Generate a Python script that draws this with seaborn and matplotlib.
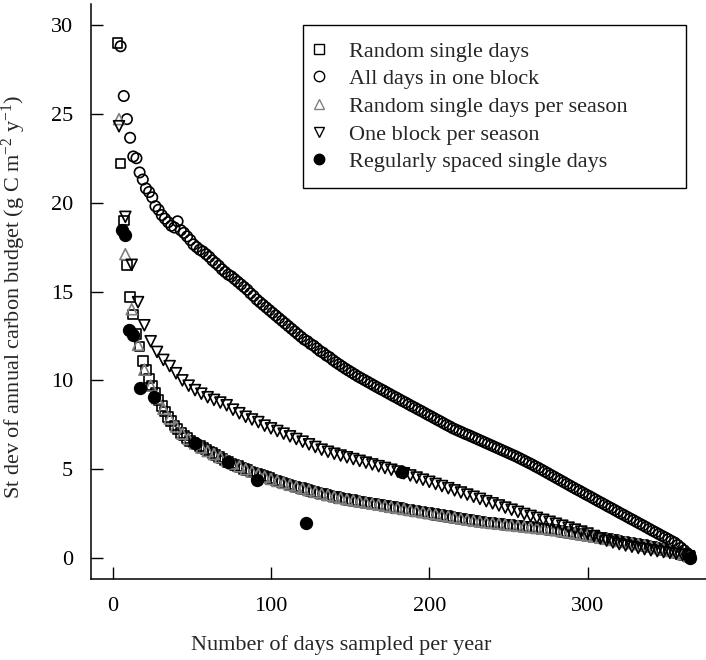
import numpy as np
import pandas as pd
import seaborn as sns
import matplotlib.pyplot as plt
from matplotlib.lines import Line2D

# Random single days (odd numbers of days 3..365)
random_days = list(range(3, 366, 2))
random_sd = [
    29.0, 22.2, 19.0, 16.5, 14.7, 13.7, 12.6, 11.9, 11.1, 10.6, 10.1, 9.7, 9.3, 8.9, 8.55, 8.25,
    7.95, 7.7, 7.45, 7.25, 7.05, 6.9, 6.75, 6.6, 6.5, 6.4, 6.3, 6.2, 6.1, 6.0, 5.9, 5.8,
    5.7, 5.6, 5.5, 5.42, 5.33, 5.25, 5.17, 5.1, 5.02, 4.95, 4.88, 4.81, 4.74, 4.67, 4.61, 4.55,
    4.49, 4.43, 4.37, 4.31, 4.25, 4.19, 4.13, 4.08, 4.03, 3.98, 3.93, 3.88, 3.83, 3.78, 3.73, 3.68,
    3.63, 3.59, 3.55, 3.51, 3.47, 3.43, 3.39, 3.35, 3.31, 3.28, 3.25, 3.22, 3.19, 3.16, 3.13, 3.10,
    3.07, 3.04, 3.01, 2.98, 2.95, 2.92, 2.89, 2.86, 2.83, 2.80, 2.77, 2.74, 2.71, 2.68, 2.65, 2.62,
    2.59, 2.56, 2.53, 2.50, 2.47, 2.44, 2.41, 2.38, 2.35, 2.32, 2.29, 2.26, 2.23, 2.20, 2.17, 2.14,
    2.11, 2.08, 2.05, 2.03, 2.01, 1.99, 1.97, 1.95, 1.93, 1.91, 1.89, 1.87, 1.85, 1.83, 1.81, 1.79,
    1.77, 1.75, 1.73, 1.71, 1.69, 1.67, 1.65, 1.63, 1.61, 1.59, 1.57, 1.54, 1.51, 1.48, 1.45, 1.42,
    1.39, 1.36, 1.33, 1.30, 1.27, 1.24, 1.21, 1.18, 1.15, 1.12, 1.09, 1.06, 1.03, 1.00, 0.97, 0.94,
    0.91, 0.88, 0.85, 0.82, 0.79, 0.76, 0.73, 0.69, 0.65, 0.61, 0.57, 0.53, 0.49, 0.45, 0.41, 0.37,
    0.33, 0.28, 0.23, 0.17, 0.11, 0.05,
]

# All days in one block (odd numbers of days 5..365)
block_days = list(range(5, 366, 2))
block_sd = [
    28.8, 26.0, 24.7, 23.65, 22.6, 22.5, 21.7, 21.3, 20.8, 20.6, 20.3, 19.8, 19.6, 19.3, 19.1, 18.9,
    18.7, 18.6, 18.95, 18.45, 18.3, 18.1, 17.9, 17.65, 17.5, 17.35, 17.25, 17.1, 16.95, 16.75, 16.6, 16.45,
    16.25, 16.1, 15.95, 15.85, 15.7, 15.55, 15.4, 15.25, 15.1, 14.9, 14.75, 14.55, 14.4, 14.25, 14.1, 13.95,
    13.8, 13.65, 13.5, 13.35, 13.2, 13.05, 12.9, 12.75, 12.6, 12.45, 12.3, 12.2, 12.05, 11.95, 11.8, 11.65,
    11.55, 11.4, 11.3, 11.15,
    11.02, 10.9, 10.78, 10.66, 10.55, 10.44,
    10.33, 10.22, 10.12, 10.02, 9.92, 9.82, 9.72, 9.62, 9.52, 9.43, 9.33, 9.23,
    9.13, 9.04, 8.94, 8.84, 8.75, 8.65, 8.55, 8.46, 8.36, 8.27, 8.17, 8.07, 7.98, 7.88, 7.78, 7.69,
    7.59, 7.49, 7.40, 7.30,
    7.22, 7.14, 7.06, 6.98, 6.91, 6.83, 6.75, 6.67, 6.59, 6.51, 6.43, 6.35, 6.27, 6.19, 6.11, 6.03,
    5.95, 5.87, 5.79, 5.71, 5.62,
    5.53, 5.44, 5.35, 5.26, 5.16, 5.07, 4.97, 4.87, 4.77, 4.67, 4.57, 4.47, 4.37, 4.27, 4.17, 4.07, 3.97,
    3.87, 3.78, 3.68, 3.58, 3.49, 3.39, 3.29, 3.19, 3.10, 3.00, 2.90, 2.81, 2.71, 2.61, 2.51, 2.42,
    2.32, 2.22, 2.13, 2.03, 1.93, 1.84, 1.74, 1.64, 1.54, 1.45, 1.35, 1.25, 1.16, 1.06, 0.96, 0.87,
    0.73, 0.58, 0.43, 0.27, 0.10,
]

# seasonal strategies (multiples of 4 days)
season_days = list(range(4, 365, 4))
season_random_sd = [
    24.7, 17.1, 14.0, 12.0, 10.6, 9.7, 9.0, 8.4, 7.85, 7.4, 7.0, 6.7, 6.45, 6.22, 6.02, 5.85,
    5.68, 5.5, 5.32, 5.16, 5.0, 4.86, 4.72, 4.58, 4.45, 4.34, 4.23, 4.12, 4.02, 3.92, 3.82, 3.72,
    3.62, 3.54, 3.46, 3.38, 3.3, 3.24, 3.18, 3.12, 3.06, 3.0, 2.94, 2.88, 2.82, 2.76, 2.7, 2.64,
    2.58, 2.52, 2.46, 2.4, 2.34, 2.28, 2.22, 2.16, 2.1, 2.05, 2.01, 1.97, 1.93, 1.89, 1.85, 1.81,
    1.77, 1.73, 1.69, 1.65, 1.61, 1.56, 1.5, 1.44, 1.38, 1.32, 1.26, 1.2, 1.14, 1.08, 1.02, 0.96,
    0.9, 0.84, 0.78, 0.72, 0.64, 0.56, 0.48, 0.4, 0.32, 0.22, 0.1,
]
season_block_sd = [
    24.3, 19.2, 16.5, 14.4, 13.1, 12.2, 11.6, 11.15, 10.8, 10.4, 10.0, 9.7, 9.45, 9.25, 9.05, 8.9,
    8.75, 8.6, 8.35, 8.15, 7.95, 7.8, 7.65, 7.45, 7.3, 7.15, 7.0, 6.85, 6.7, 6.55, 6.4, 6.25,
    6.1, 5.98, 5.87, 5.77, 5.67, 5.57, 5.47, 5.37, 5.27, 5.17, 5.07, 4.97, 4.87, 4.77, 4.65, 4.53,
    4.41, 4.29, 4.17, 4.05, 3.93, 3.81, 3.69, 3.57, 3.45, 3.33, 3.2, 3.08, 2.96, 2.84, 2.72, 2.6,
    2.48, 2.37, 2.26, 2.15, 2.04, 1.93, 1.82, 1.71, 1.6, 1.49, 1.38, 1.24, 1.1, 0.98, 0.88, 0.79,
    0.71, 0.64, 0.57, 0.5, 0.44, 0.39, 0.34, 0.29, 0.24, 0.18, 0.1,
]

# Regularly spaced single days
regular_days = [6, 8, 10, 13, 17, 26, 52, 73, 91, 122, 183, 365]
regular_sd = [18.45, 18.2, 12.85, 12.55, 9.55, 9.05, 6.45, 5.42, 4.4, 1.97, 4.87, 0.0]

labels = ["Random single days", "All days in one block", "Random single days per season",
          "One block per season", "Regularly spaced single days"]

series = [
    (random_days, random_sd, "s", "none", "black", 48),
    (block_days, block_sd, "o", "none", "black", 56),
    (season_days, season_random_sd, "^", "none", "#808080", 62),
    (season_days, season_block_sd, "v", "none", "black", 62),
    (regular_days, regular_sd, "o", "black", "black", 70),
]

sns.set_style("ticks")
plt.rcParams["font.family"] = ["Liberation Serif", "DejaVu Serif"]
plt.rcParams["mathtext.fontset"] = "custom"
plt.rcParams["mathtext.rm"] = "Liberation Serif"
plt.rcParams["mathtext.it"] = "Liberation Serif:italic"

fig = plt.figure(figsize=(7.06, 6.6), dpi=100)
ax = fig.add_axes([0.1289, 0.1227, 0.8711, 0.8718])

for (days, sd, mk, fc, ec, size), lab in zip(series, labels):
    assert len(days) == len(sd), lab
    df = pd.DataFrame({"days": days, "sd": sd})
    sns.scatterplot(data=df, x="days", y="sd", marker=mk, s=size, facecolors=fc,
                    edgecolor=ec, linewidth=1.2, ax=ax, legend=False, clip_on=False)

ax.set_xlim(-13.7, 374.8)
ax.set_ylim(-1.18, 31.2)
ax.set_xticks([0, 100, 200, 300])
ax.set_yticks([0, 5, 10, 15, 20, 25, 30])
ax.tick_params(direction="in", length=8.5, width=1, labelsize=16, colors="black")
ax.tick_params(axis="y", pad=13)
ax.tick_params(axis="x", pad=13)
for side in ["top", "right"]:
    ax.spines[side].set_visible(False)
for side in ["left", "bottom"]:
    ax.spines[side].set_linewidth(1.1)
    ax.spines[side].set_color("black")

ax.set_xlabel("Number of days sampled per year", fontsize=16)
ax.set_ylabel("St dev of annual carbon budget (g C m$^{-2}$ y$^{-1}$)", fontsize=16)
ax.xaxis.set_label_coords(0.407, -0.098)
ax.yaxis.set_label_coords(-0.103, 0.49)

handles = []
for days, sd, mk, fc, ec, size in series:
    handles.append(Line2D([], [], linestyle="none", marker=mk, markersize=7.5,
                          markerfacecolor=fc, markeredgecolor=ec, markeredgewidth=1.0))
leg = ax.legend(handles, labels, loc="upper left", bbox_to_anchor=(0.3447, 0.9628, 0.6228, 0.0),
                mode="expand", borderaxespad=0, fontsize=16, frameon=True, fancybox=False,
                framealpha=1, edgecolor="black", handlelength=0.0, handletextpad=1.35,
                labelspacing=0.32, borderpad=0.72)
leg.get_frame().set_linewidth(1.0)

fig.savefig("out.png", dpi=100)
